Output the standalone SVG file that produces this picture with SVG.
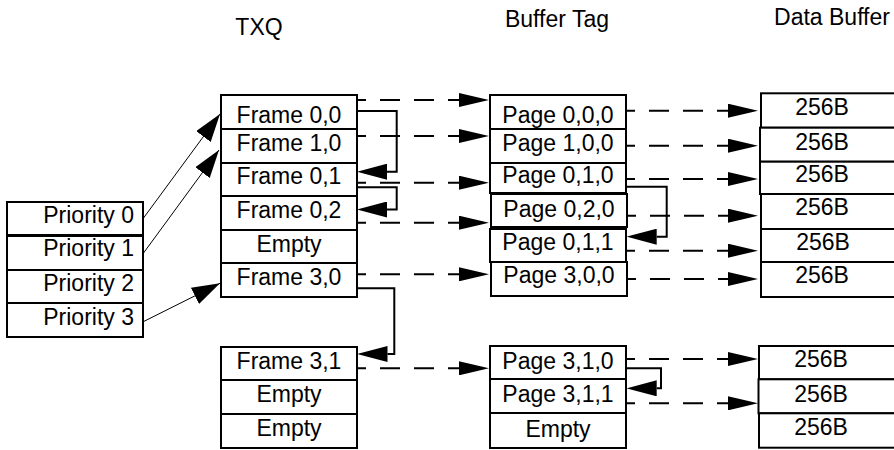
<svg xmlns="http://www.w3.org/2000/svg" width="894" height="450" viewBox="0 0 894 450">
<style>
.box{fill:#fff;stroke:#000;stroke-width:2}
.t{font-family:"Liberation Sans",Arial,sans-serif;font-size:23px;fill:#000;text-anchor:middle}
.r{text-anchor:end}
.dash{stroke:#000;stroke-width:2;stroke-dasharray:20 14;stroke-dashoffset:11;fill:none;marker-end:url(#ah)}
.elbow{stroke:#000;stroke-width:2;fill:none;marker-end:url(#ah3)}
.diag{stroke:#000;stroke-width:1;fill:none;marker-end:url(#ah2)}
</style>
<defs>
<marker id="ah" markerUnits="userSpaceOnUse" markerWidth="30" markerHeight="14" viewBox="0 0 30 14" refX="0" refY="7" orient="auto"><path d="M0,0 L30,7 L0,14 z" fill="#000"/></marker>
<marker id="ah3" markerUnits="userSpaceOnUse" markerWidth="30" markerHeight="16" viewBox="0 0 30 16" refX="0" refY="8" orient="auto"><path d="M0,0 L30,8 L0,16 z" fill="#000"/></marker>
<marker id="ah2" markerUnits="userSpaceOnUse" markerWidth="28" markerHeight="18" viewBox="0 0 28 18" refX="28" refY="9" orient="auto"><path d="M0,0 L28,9 L0,18 z" fill="#000"/></marker>
</defs>
<rect width="894" height="450" fill="#fff"/>

<g id="titles">
<text class="t" x="259" y="35">TXQ</text>
<text class="t" x="557" y="27">Buffer Tag</text>
<text class="t" x="832" y="25">Data Buffer</text>
</g>

<g id="priority0"><rect class="box" x="7" y="202" width="136" height="33"/><text class="t r" x="134" y="223">Priority 0</text></g>
<g id="priority1"><rect class="box" x="7" y="236" width="136" height="34"/><text class="t r" x="134" y="256">Priority 1</text></g>
<g id="priority2"><rect class="box" x="7" y="270" width="136" height="33"/><text class="t r" x="134" y="291">Priority 2</text></g>
<g id="priority3"><rect class="box" x="7" y="303" width="136" height="34"/><text class="t r" x="134" y="325">Priority 3</text></g>

<g id="frame00"><rect class="box" x="221" y="95" width="136" height="34"/><text class="t" x="289" y="122.5">Frame 0,0</text></g>
<g id="frame10"><rect class="box" x="221" y="129" width="136" height="34"/><text class="t" x="289" y="151">Frame 1,0</text></g>
<g id="frame01"><rect class="box" x="221" y="163" width="136" height="33"/><text class="t" x="289" y="184.3">Frame 0,1</text></g>
<g id="frame02"><rect class="box" x="221" y="196" width="136" height="34"/><text class="t" x="289" y="218.3">Frame 0,2</text></g>
<g id="txqEmpty1"><rect class="box" x="221" y="230" width="136" height="33"/><text class="t" x="289" y="251.7">Empty</text></g>
<g id="frame30"><rect class="box" x="221" y="263" width="136" height="34"/><text class="t" x="289" y="285">Frame 3,0</text></g>
<g id="frame31"><rect class="box" x="221" y="347" width="136" height="33"/><text class="t" x="289" y="369.3">Frame 3,1</text></g>
<g id="txqEmpty2"><rect class="box" x="221" y="380" width="136" height="34"/><text class="t" x="289" y="401.7">Empty</text></g>
<g id="txqEmpty3"><rect class="box" x="221" y="414" width="136" height="34"/><text class="t" x="289" y="436">Empty</text></g>

<g id="page000"><rect class="box" x="490" y="95" width="136" height="34"/><text class="t" x="558" y="123">Page 0,0,0</text></g>
<g id="page100"><rect class="box" x="490" y="129" width="136" height="34"/><text class="t" x="558" y="151">Page 1,0,0</text></g>
<g id="page010"><rect class="box" x="490" y="163" width="136" height="30"/><text class="t" x="558" y="183.3">Page 0,1,0</text></g>
<g id="page020"><rect class="box" x="491" y="194" width="136" height="33"/><text class="t" x="559" y="216.7">Page 0,2,0</text></g>
<g id="page011"><rect class="box" x="490" y="229" width="136" height="33"/><text class="t" x="558" y="250">Page 0,1,1</text></g>
<g id="page300"><rect class="box" x="491" y="262" width="136" height="34"/><text class="t" x="559" y="283.3">Page 3,0,0</text></g>
<g id="page310"><rect class="box" x="490" y="346" width="136" height="33"/><text class="t" x="558" y="369.3">Page 3,1,0</text></g>
<g id="page311"><rect class="box" x="490" y="379" width="136" height="34"/><text class="t" x="558" y="401.7">Page 3,1,1</text></g>
<g id="tagEmpty"><rect class="box" x="490" y="413" width="136" height="35"/><text class="t" x="558" y="436.7">Empty</text></g>

<g id="data1"><rect class="box" x="761" y="93.3" width="140" height="34.4"/><text class="t" x="822" y="115">256B</text></g>
<g id="data2"><rect class="box" x="760" y="127.7" width="140" height="34"/><text class="t" x="822" y="150">256B</text></g>
<g id="data3"><rect class="box" x="760" y="161.7" width="140" height="32.3"/><text class="t" x="822" y="181.7">256B</text></g>
<g id="data4"><rect class="box" x="761" y="194" width="140" height="35"/><text class="t" x="822" y="215">256B</text></g>
<g id="data5"><rect class="box" x="761" y="229" width="140" height="33"/><text class="t" x="823" y="250">256B</text></g>
<g id="data6"><rect class="box" x="761" y="262" width="140" height="35"/><text class="t" x="822" y="283.3">256B</text></g>
<g id="data7"><rect class="box" x="759" y="346" width="140" height="33.3"/><text class="t" x="821" y="366.7">256B</text></g>
<g id="data8"><rect class="box" x="758.5" y="379.3" width="140" height="34"/><text class="t" x="821" y="401.7">256B</text></g>
<g id="data9"><rect class="box" x="759" y="413.3" width="140" height="34.4"/><text class="t" x="821" y="435">256B</text></g>

<g id="connectors">
<path class="diag" d="M143.3,218.3 L220,114"/>
<path class="diag" d="M143.3,253.3 L219,150"/>
<path class="diag" d="M143.3,321.7 L220,283.3"/>

<path class="dash" d="M357,100 H459"/>
<path class="dash" d="M357,136 H459"/>
<path class="dash" d="M357,182.7 H459"/>
<path class="dash" d="M357,222.7 H459"/>
<path class="dash" d="M357,274.3 H459"/>
<path class="dash" d="M357,368.3 H459"/>

<path class="dash" d="M626,110.7 H728"/>
<path class="dash" d="M626,145.7 H728"/>
<path class="dash" d="M626,179 H728"/>
<path class="dash" d="M627,215.7 H728"/>
<path class="dash" d="M626,250.7 H728"/>
<path class="dash" d="M627,279 H728"/>
<path class="dash" d="M626,359 H728"/>
<path class="dash" d="M626,403.3 H728"/>

<path class="elbow" d="M357,111 H396.7 V171.7 H387"/>
<path class="elbow" d="M357,187.3 H396.7 V209.5 H387"/>
<path class="elbow" d="M357,288.3 H394.3 V354 H387.5"/>
<path class="elbow" d="M626,186.7 H666.7 V236.7 H656.7"/>
<path class="elbow" d="M626,368.3 H661 V388.3 H656.7"/>
</g>
</svg>
